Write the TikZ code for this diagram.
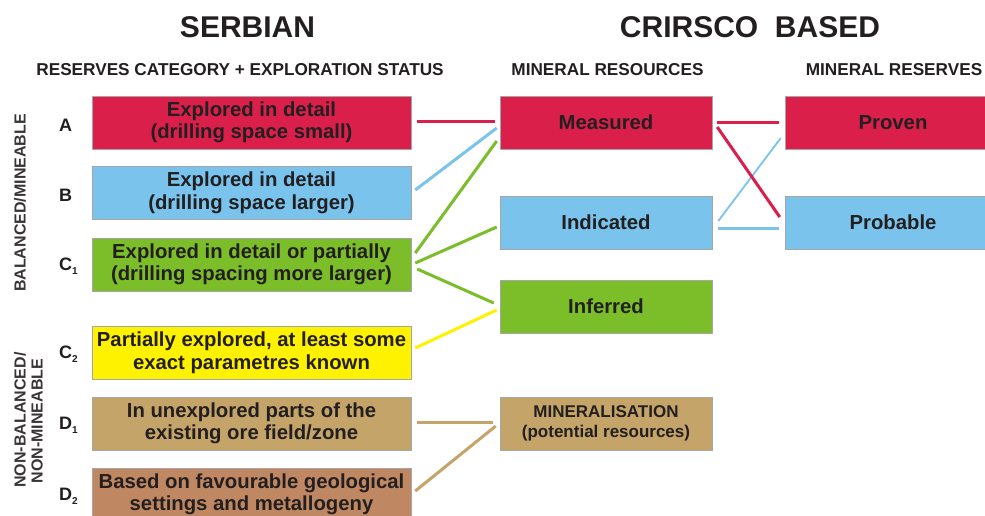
\documentclass[tikz,border=0pt]{standalone}
\usepackage{fontspec}
\setmainfont{Liberation Sans}
\usetikzlibrary{calc}
\definecolor{txt}{HTML}{231F20}
\definecolor{cred}{HTML}{DA1F4B}
\definecolor{cblue}{HTML}{79C3EC}
\definecolor{cgreen}{HTML}{7CBD2A}
\definecolor{cyellow}{HTML}{FFF200}
\definecolor{ctan}{HTML}{C4A468}
\definecolor{cbrown}{HTML}{BF8762}
\newcommand{\sbs}[1]{\raisebox{-0.45ex}{\fontsize{10}{10}\selectfont #1}}
\tikzset{
  box/.style={draw=black!35, line width=0.5pt, inner sep=0pt, align=center, text=txt,
    font=\bfseries\fontsize{20.3}{22.5}\selectfont},
  lbox/.style={box, minimum width=319pt, minimum height=53pt},
  mbox/.style={box, minimum width=212pt, minimum height=53pt},
  rbox/.style={box, minimum width=216pt, minimum height=53pt},
  conn/.style={line width=3pt},
  thinconn/.style={line width=1.8pt},
  title/.style={text=txt, font=\bfseries\fontsize{30}{30}\selectfont, inner sep=0pt},
  subhead/.style={text=txt, font=\bfseries\fontsize{17.2}{17.2}\selectfont, inner sep=0pt},
  letter/.style={text=txt, font=\bfseries\fontsize{18}{18}\selectfont, inner sep=0pt, anchor=west},
  side/.style={text=txt!90, font=\bfseries\fontsize{16}{16}\selectfont, inner sep=0pt, rotate=90}
}
\begin{document}
\begin{tikzpicture}[x=1pt,y=-1pt]
\clip (0,0) rectangle (985,515);
\fill[white] (0,0) rectangle (985,515);

% titles
\node[title] (tser) at (247.5,27.5) {SERBIAN};
\node[title] (tcri) at (750,27.5) {CRIRSCO\ \ BASED};
\node[subhead] (hres) at (240,70) {RESERVES CATEGORY + EXPLORATION STATUS};
\node[subhead] (hmr) at (607.5,70) {MINERAL RESOURCES};
\node[subhead] (hmrv) at (894,70) {MINERAL RESERVES};

% side labels
\node[side] (sbal) at (20,203) {BALANCED/MINEABLE};
\node[side] (snb1) at (20,420) {NON-BALANCED/};
\node[side] (snb2) at (37,421) {NON-MINEABLE};

% category letters
\node[letter] (la) at (59,125) {A};
\node[letter] (lb) at (59,195) {B};
\node[letter] (lc1) at (59,266) {C\sbs{1}};
\node[letter] (lc2) at (59,354) {C\sbs{2}};
\node[letter] (ld1) at (59,425) {D\sbs{1}};
\node[letter] (ld2) at (59,496) {D\sbs{2}};

% left boxes
\node[lbox, fill=cred] (A) at (251.5,122.5) {Explored in detail\\(drilling space small)};
\node[lbox, fill=cblue] (B) at (251.5,193) {Explored in detail\\(drilling space larger)};
\node[lbox, fill=cgreen] (C1) at (251.5,264.5) {Explored in detail or partially\\(drilling spacing more larger)};
\node[lbox, fill=cyellow] (C2) at (251.5,352.5) {Partially explored, at least some\\exact parametres known};
\node[lbox, fill=ctan] (D1) at (251.5,423.5) {In unexplored parts of the\\existing ore field/zone};
\node[lbox, fill=cbrown] (D2) at (251.5,494.5) {Based on favourable geological\\settings and metallogeny};

% middle boxes
\node[mbox, fill=cred] (Mea) at (606,122.5) {Measured};
\node[mbox, fill=cblue] (Ind) at (606,222.5) {Indicated};
\node[mbox, fill=cgreen] (Inf) at (606,306.5) {Inferred};
\node[mbox, fill=ctan, font=\bfseries\fontsize{17}{20}\selectfont] (Min) at (606,423.5) {MINERALISATION\\(potential resources)};

% right boxes
\node[rbox, fill=cred] (Prov) at (893,122.5) {Proven};
\node[rbox, fill=cblue] (Prob) at (893,222.5) {Probable};

% connectors left -> middle
\draw[conn, cred] ($(A.east)+(6,-1.5)$) -- ($(Mea.west)+(-5,-1.5)$);
\draw[conn, cblue] ($(B.east)+(4,-3)$) -- ($(Mea.west)+(-3,5.5)$);
\draw[conn, cgreen] ($(C1.east)+(4,-11.5)$) -- ($(Mea.west)+(-3,18.5)$);
\draw[conn, cgreen] ($(C1.east)+(4,-1.5)$) -- ($(Ind.west)+(-3,4.5)$);
\draw[conn, cgreen] ($(C1.east)+(6,4.5)$) -- ($(Inf.west)+(-6,-3.5)$);
\draw[conn, cyellow] ($(C2.east)+(4,-4.5)$) -- ($(Inf.west)+(-3,3.5)$);
\draw[conn, ctan] ($(D1.east)+(6,-1.5)$) -- ($(Min.west)+(-7,-1.5)$);
\draw[conn, ctan] ($(D2.east)+(4,-3.5)$) -- ($(Min.west)+(-4,2.5)$);

% connectors middle -> right
\draw[conn, cred] ($(Mea.east)+(5,0)$) -- ($(Prov.west)+(-6,0)$);
\draw[thinconn, cblue] ($(Ind.east)+(6,-1.5)$) -- ($(Prov.west)+(-4,15.5)$);
\draw[conn, cred] ($(Mea.east)+(5,4.5)$) -- ($(Prob.west)+(-5,-5.5)$);
\draw[conn, cblue] ($(Ind.east)+(6,5.5)$) -- ($(Prob.west)+(-6,5.5)$);
\end{tikzpicture}
\end{document}
